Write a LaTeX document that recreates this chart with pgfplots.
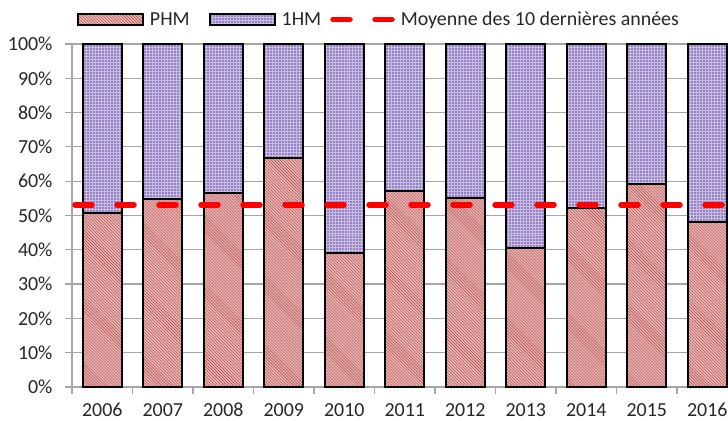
\documentclass[border=0pt]{standalone}
\usepackage{pgfplots}
\pgfplotsset{compat=1.18}
\usepackage{fontspec}
\setmainfont{Carlito}
\usetikzlibrary{patterns}
\definecolor{phmfill}{HTML}{EAB6B4}
\definecolor{phmline}{HTML}{A84444}
\definecolor{hmfill}{HTML}{9480C2}
\definecolor{hmline}{HTML}{C8BDE3}
\definecolor{gridgray}{HTML}{A6A6A6}
\definecolor{txt}{HTML}{262626}
\pgfplotsset{
  boxlegend/.style={legend image code/.code={\draw[##1] (0bp,-5.5bp) rectangle (65bp,5.5bp);}},
  linelegend/.style={legend image code/.code={\draw[##1, dash phase=0bp] (3bp,0bp) -- (62bp,0bp);}},
  common/.style={at={(72bp,34bp)}, anchor=south west,
    scale only axis, width=665.5bp, height=343bp,
    xmin=-0.5, xmax=10.5, ymin=0, ymax=100},
}
\pgfplotstableread{
x year phm hm
0 2006 50.7 49.3
1 2007 54.8 45.2
2 2008 56.6 43.4
3 2009 66.8 33.2
4 2010 39.1 60.9
5 2011 57.1 42.9
6 2012 55.1 44.9
7 2013 40.5 59.5
8 2014 52.2 47.8
9 2015 59.2 40.8
10 2016 48.1 51.9
}\datatable
\pgfplotstableread{
x mean
-0.5 53.1
10.5 53.1
}\meantable
\begin{document}
\begin{tikzpicture}
\useasboundingbox (0,0) rectangle (728bp,421bp);
\clip (0,0) rectangle (728bp,421bp);
\begin{axis}[
  common,
  ybar stacked, bar width=39bp,
  axis lines*=left,
  axis line style={gridgray, line width=1.2bp},
  ytick={0,10,...,100},
  yticklabel={\pgfmathprintnumber{\tick}\%},
  ymajorgrids, major grid style={gridgray, line width=1.2bp},
  xtick={0,...,10},
  xticklabels={2006,2007,2008,2009,2010,2011,2012,2013,2014,2015,2016},
  major x tick style={draw=none},
  minor xtick={-0.5,0.5,...,10.5},
  minor x tick style={gridgray, line width=1.2bp},
  minor tick length=7bp,
  major tick length=7bp,
  tick align=outside,
  y tick style={gridgray, line width=1.2bp},
  tick label style={font=\fontsize{20}{23}\selectfont, text=txt},
  /pgf/number format/assume math mode=true,
  xticklabel style={anchor=base, inner sep=0pt, outer sep=0pt, yshift=-22bp},
  yticklabel style={xshift=-9bp},
]
\addplot+[ybar, fill=phmfill, draw=black, line width=2bp,
  postaction={pattern=north west lines, pattern color=phmline}]
  table[x=x, y=phm] {\datatable};
\addplot+[ybar, fill=hmfill, draw=black, line width=2bp,
  postaction={pattern=grid, pattern color=hmline}]
  table[x=x, y=hm] {\datatable};
\end{axis}
\begin{axis}[
  common, hide axis,
  legend style={at={(0.0075,1.0714)}, anchor=west, draw=none, fill=none,
    inner sep=0pt, outer sep=0pt,
    legend columns=-1, font=\fontsize{20}{23}\selectfont, text=txt,
    /tikz/every odd column/.append style={column sep=4bp},
    /tikz/column 2/.style={column sep=17bp},
    /tikz/column 4/.style={column sep=7bp}},
  legend cell align=left,
]
\addlegendimage{fill=phmfill, draw=black, line width=2bp,
  postaction={pattern=north west lines, pattern color=phmline}, boxlegend}
\addlegendentry{PHM}
\addlegendimage{fill=hmfill, draw=black, line width=2bp,
  postaction={pattern=grid, pattern color=hmline}, boxlegend}
\addlegendentry{1HM}
\addplot[red, line width=5.5bp, line cap=round, dash pattern=on 17bp off 25bp,
  dash phase=39bp, linelegend] table[x=x, y=mean] {\meantable};
\addlegendentry{Moyenne des 10 dernières années}
\end{axis}
\end{tikzpicture}
\end{document}
